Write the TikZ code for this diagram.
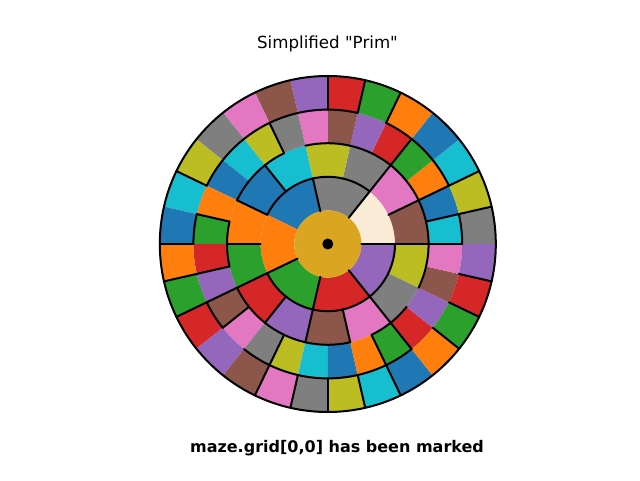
\documentclass[tikz,border=0pt]{standalone}
\usepackage{fontspec}
\setmainfont{DejaVu Sans}[Ligatures=TeXOff]
\definecolor{tab0}{HTML}{1F77B4}
\definecolor{tab1}{HTML}{FF7F0E}
\definecolor{tab2}{HTML}{2CA02C}
\definecolor{tab3}{HTML}{D62728}
\definecolor{tab4}{HTML}{9467BD}
\definecolor{tab5}{HTML}{8C564B}
\definecolor{tab6}{HTML}{E377C2}
\definecolor{tab7}{HTML}{7F7F7F}
\definecolor{tab8}{HTML}{BCBD22}
\definecolor{tab9}{HTML}{17BECF}
\definecolor{cream}{HTML}{FAEBD7}
\definecolor{gold}{HTML}{DAA520}
\begin{document}
\begin{tikzpicture}[x=1pt,y=1pt,
  wall/.style={line width=2pt,line cap=round,line join=round,black},
  lbl/.style={font=\fontsize{16.67}{20}\selectfont,anchor=base,inner sep=0pt}]
\useasboundingbox (0,0) rectangle (640,480);
\coordinate (C) at (327.8,236);
\def\u{33.6}
% ring 1 cells
\foreach \j/\cc in {0/cream,1/tab7,2/tab0,3/tab1,4/tab2,5/tab3,6/tab4}{
  \pgfmathsetmacro\aa{\j*360/7}
  \pgfmathsetmacro\ab{(\j+1)*360/7}
  \fill[\cc] ([shift={(C)}]\aa:\u) arc[start angle=\aa,end angle=\ab,radius=\u]
     -- ([shift={(C)}]\ab:2*\u) arc[start angle=\ab,end angle=\aa,radius=2*\u] -- cycle;
}
% rings 2-4 cells
\foreach \k/\n/\ro in {2/14/5,3/28/9,4/28/7}{
  \pgfmathtruncatemacro\last{\n-1}
  \foreach \j in {0,...,\last}{
    \pgfmathtruncatemacro\ci{mod(\ro+\j,10)}
    \colorlet{cur}{tab\ci}
    \pgfmathsetmacro\aa{\j*360/\n}
    \pgfmathsetmacro\ab{(\j+1)*360/\n}
    \pgfmathsetmacro\ra{\k*\u}
    \pgfmathsetmacro\rb{(\k+1)*\u}
    \fill[cur] ([shift={(C)}]\aa:\ra) arc[start angle=\aa,end angle=\ab,radius=\ra]
       -- ([shift={(C)}]\ab:\rb) arc[start angle=\ab,end angle=\aa,radius=\rb] -- cycle;
  }
}
% centre
\fill[gold] (C) circle[radius=\u];
\fill[black] (C) circle[radius=5.5];
% radial walls
\foreach \j in {0,1,2,4,5,6}{
  \draw[wall] ([shift={(C)}]\j*360/7:\u) -- ([shift={(C)}]\j*360/7:2*\u);}
\foreach \j in {0,1,2,5,6,7,8,9,10,11,12}{
  \draw[wall] ([shift={(C)}]\j*360/14:2*\u) -- ([shift={(C)}]\j*360/14:3*\u);}
\foreach \j in {0,1,2,4,9,13,15,16,17,19,23,24}{
  \draw[wall] ([shift={(C)}]\j*360/28:3*\u) -- ([shift={(C)}]\j*360/28:4*\u);}
\foreach \j in {1,2,5,6,7,12,14,15,16,19,20,21,22,23,25,26,27}{
  \draw[wall] ([shift={(C)}]\j*360/28:4*\u) -- ([shift={(C)}]\j*360/28:5*\u);}
% arc walls
\foreach \j in {2,3,4,5,8,9,10,11,12,13}{
  \pgfmathsetmacro\aa{\j*360/14}\pgfmathsetmacro\ab{(\j+1)*360/14}
  \draw[wall] ([shift={(C)}]\aa:2*\u) arc[start angle=\aa,end angle=\ab,radius=2*\u];}
\foreach \j in {0,1,2,3,4,5,6,7,9,10,11,13,14,16,17,18,19,20,21,23,24,26,27}{
  \pgfmathsetmacro\aa{\j*360/28}\pgfmathsetmacro\ab{(\j+1)*360/28}
  \draw[wall] ([shift={(C)}]\aa:3*\u) arc[start angle=\aa,end angle=\ab,radius=3*\u];}
\foreach \j in {0,2,3,4,6,7,8,9,10,11,13,16,18,19,20,21,22,23}{
  \pgfmathsetmacro\aa{\j*360/28}\pgfmathsetmacro\ab{(\j+1)*360/28}
  \draw[wall] ([shift={(C)}]\aa:4*\u) arc[start angle=\aa,end angle=\ab,radius=4*\u];}
\draw[wall] (C) circle[radius=5*\u];
% texts
\node[lbl] (title) at (327.5,431.5) {Simplified "Prim"};
\node[lbl,font=\fontsize{16}{19}\selectfont\bfseries] (caption) at (337,28) {maze.grid[0,0] has been marked};
\end{tikzpicture}
\end{document}
